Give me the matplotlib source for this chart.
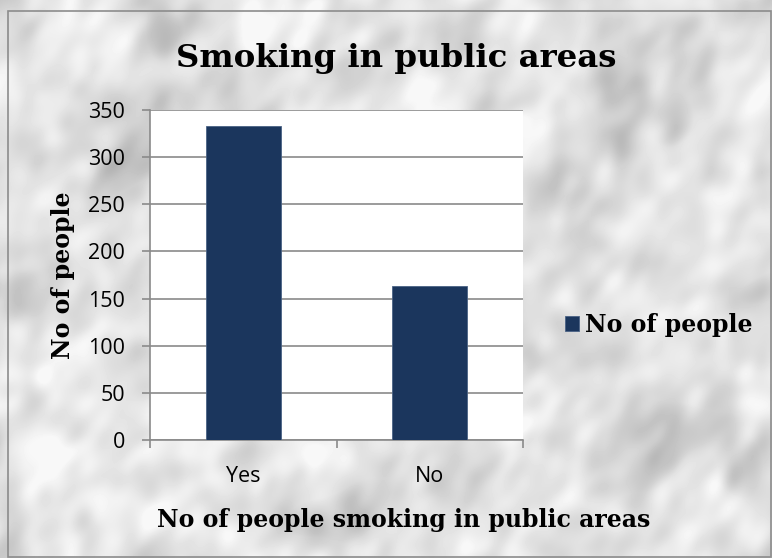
import numpy as np
import matplotlib
matplotlib.use("Agg")
import matplotlib.pyplot as plt
from matplotlib.patches import Rectangle

# survey answers
categories = ["Yes", "No"]
people = [333, 163]
series_name = "No of people"

W, H = 772, 558
fig = plt.figure(figsize=(W / 100, H / 100), dpi=100)

# grey marble backdrop from a few layers of filtered noise
rng = np.random.default_rng(11)
fy = np.fft.fftfreq(H)[:, None]
fx = np.fft.fftfreq(W)[None, :]
u = fx * 0.85 + fy * 0.53
v = -fx * 0.53 + fy * 0.85

def smooth_noise(su, sv):
    n = rng.standard_normal((H, W))
    filt = np.exp(-((u * su) ** 2 + (v * sv) ** 2))
    out = np.real(np.fft.ifft2(np.fft.fft2(n) * filt))
    return (out - out.mean()) / out.std()

big = smooth_noise(30, 45)
mid = smooth_noise(70, 105)
fine = smooth_noise(160, 230)
spots = np.clip(-(0.6 * mid + 0.5 * fine) - 1.1, 0, None)
tex = 0.885 + 0.03 * big + 0.022 * mid + 0.014 * fine - 0.07 * spots
tex = np.clip(tex, 0.65, 0.97)
bg = fig.add_axes([0, 0, 1, 1])
bg.imshow(tex, cmap="gray", vmin=0, vmax=1, aspect="auto", interpolation="bilinear")
bg.axis("off")

# outer chart frame
frame = fig.add_axes([0, 0, 1, 1], facecolor="none")
frame.set_xlim(0, W)
frame.set_ylim(H, 0)
frame.axis("off")
frame.add_patch(Rectangle((8, 11), W - 9, H - 12, fill=False, edgecolor="#8c8c8c", lw=1.2))

ax = fig.add_axes([150 / W, 1 - 440 / H, 373 / W, 330 / H])
ax.set_facecolor("white")
x = np.arange(len(categories))
ax.bar(x, people, width=0.4, color="#1b365d", edgecolor="#4a6285", linewidth=0.6,
       label=series_name, zorder=3)

ax.set_xlim(-0.5, len(categories) - 0.5)
ax.set_ylim(0, 350)
ax.set_yticks(np.arange(0, 351, 50))
ax.yaxis.grid(True, color="#8a8a8a", lw=1.2, zorder=0)
ax.set_xticks(x)
ax.set_xticklabels(categories)
ax.set_xticks(np.arange(-0.5, len(categories), 1.0), minor=True)
ax.tick_params(axis="x", which="major", length=0, pad=19, labelsize=15.5)
ax.tick_params(axis="x", which="minor", length=6, color="#8a8a8a", width=1.2)
ax.tick_params(axis="y", length=6, color="#8a8a8a", width=1.2, pad=12, labelsize=15.5)
for lab in ax.get_xticklabels() + ax.get_yticklabels():
    lab.set_fontfamily("Open Sans")
for side in ["top", "right"]:
    ax.spines[side].set_visible(False)
for side in ["left", "bottom"]:
    ax.spines[side].set_color("#8a8a8a")
    ax.spines[side].set_linewidth(1.2)

bold_serif = {"family": ["DejaVu Serif"], "fontweight": "bold"}
fig.text(396 / W, 1 - 67 / H, "Smoking in public areas", ha="center", va="baseline",
         fontsize=23.3, **bold_serif)
fig.text(63 / W, 1 - 275 / H, "No of people", rotation=90, ha="center", va="center",
         fontsize=17, **bold_serif)
fig.text(404 / W, 1 - 527 / H, "No of people smoking in public areas", ha="center",
         va="baseline", fontsize=17, **bold_serif)

ax.legend(loc="center left", bbox_to_anchor=(565 / W, 1 - 325 / H),
          bbox_transform=fig.transFigure, frameon=False, borderaxespad=0, borderpad=0,
          handlelength=0.6, handleheight=0.6, handletextpad=0.25,
          prop={"family": "DejaVu Serif", "weight": "bold", "size": 17})

fig.savefig("out.png", dpi=100)
